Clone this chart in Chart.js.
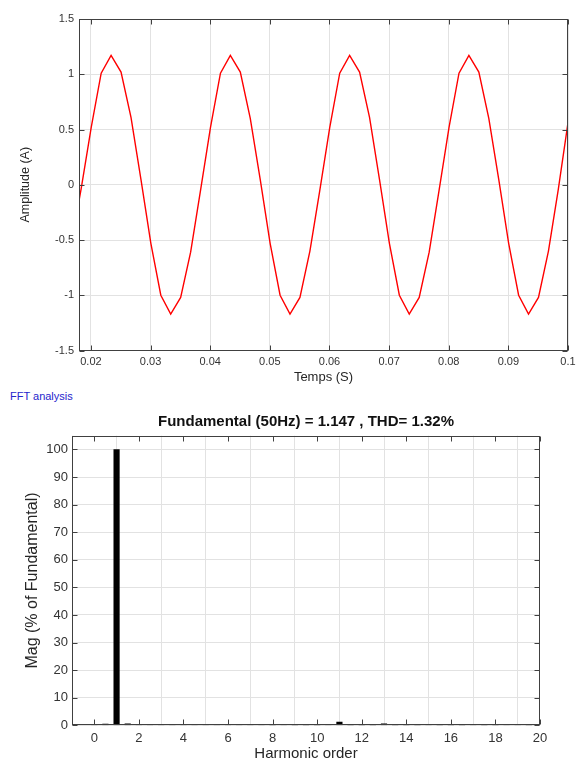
<!DOCTYPE html>
<html>
<head>
<meta charset="utf-8">
<script src="https://cdn.jsdelivr.net/npm/chart.js@4.4.1/dist/chart.umd.min.js"></script>
<style>
  html, body { margin: 0; padding: 0; background: #fff; overflow: hidden; width: 581px; height: 760px; }
  #wave { position: absolute; left: 0; top: 0; }
  #fft { position: absolute; left: 0; top: 400px; }
  .fftlabel { position: absolute; left: 10px; top: 390px; font: 11px 'Liberation Sans', Arial, sans-serif; color: #2626cc; line-height: 13px; }
</style>
</head>
<body>
<canvas id="wave" width="581" height="390"></canvas>
<div class="fftlabel">FFT analysis</div>
<canvas id="fft" width="581" height="370"></canvas>
<script>
// signal samples (time in s, current in A)
var timeS = [
  0.01672, 0.01838,
  0.02005, 0.02172, 0.02338, 0.02505, 0.02672, 0.02838, 0.03005, 0.03172, 0.03338, 0.03505, 0.03672, 0.03838,
  0.04005, 0.04172, 0.04338, 0.04505, 0.04672, 0.04838, 0.05005, 0.05172, 0.05338, 0.05505, 0.05672, 0.05838,
  0.06005, 0.06172, 0.06338, 0.06505, 0.06672, 0.06838, 0.07005, 0.07172, 0.07338, 0.07505, 0.07672, 0.07838,
  0.08005, 0.08172, 0.08338, 0.08505, 0.08672, 0.08838, 0.09005, 0.09172, 0.09338, 0.09505, 0.09672, 0.09838,
  0.10005
];
var currentA = [
  -0.53, -0.03,
  0.52, 1.01, 1.17, 1.02, 0.61, 0.05, -0.53, -1.00, -1.17, -1.02, -0.61, -0.05,
  0.52, 1.01, 1.17, 1.02, 0.60, 0.05, -0.53, -1.00, -1.17, -1.02, -0.60, -0.05,
  0.52, 1.01, 1.17, 1.02, 0.61, 0.05, -0.53, -1.00, -1.17, -1.02, -0.61, -0.05,
  0.52, 1.01, 1.17, 1.02, 0.60, 0.05, -0.53, -1.00, -1.17, -1.02, -0.60, -0.04,
  0.58
];
var timeTicks = [0.02, 0.03, 0.04, 0.05, 0.06, 0.07, 0.08, 0.09, 0.1];
var ampTicks = [-1.5, -1, -0.5, 0, 0.5, 1, 1.5];

// FFT spectrum (% of fundamental)
var harmonicOrder = [
  0, 0.5, 1, 1.5, 2, 2.5, 3, 3.5, 4, 4.5, 5, 5.5, 6, 6.5, 7, 7.5, 8, 8.5, 9, 9.5,
  10, 10.5, 11, 11.5, 12, 12.5, 13, 13.5, 14, 14.5, 15, 15.5, 16, 16.5, 17, 17.5, 18, 18.5, 19, 19.5
];
var magPct = [
  0.1, 0.4, 100, 0.5, 0.25, 0.2, 0.15, 0.15, 0.1, 0.12, 0.15, 0.12, 0.1, 0.12, 0.15, 0.1, 0.08, 0.1, 0.05, 0.05,
  0.05, 0.15, 1.15, 0.05, 0.05, 0.05, 0.55, 0.05, 0.05, 0.05, 0.12, 0.05, 0.05, 0.05, 0.12, 0.05, 0.05, 0.12, 0.12, 0.05
];
var harmTicks = [0, 2, 4, 6, 8, 10, 12, 14, 16, 18, 20];
var magTicks = [0, 10, 20, 30, 40, 50, 60, 70, 80, 90, 100];

Chart.defaults.font.family = "'Liberation Sans', Arial, sans-serif";
Chart.defaults.color = '#333';

// box around the axes with inward tick marks
var boxPlugin = {
  id: 'boxPlugin',
  afterDraw: function(chart) {
    var ctx = chart.ctx, a = chart.chartArea, sx = chart.scales.x, sy = chart.scales.y;
    var L = Math.round(a.left) + 0.5, R = Math.round(a.right) - 0.5;
    var T = Math.round(a.top) + 0.5, B = Math.round(a.bottom) - 0.5;
    ctx.save();
    ctx.strokeStyle = '#404040';
    ctx.lineWidth = 1;
    ctx.strokeRect(L, T, R - L, B - T);
    ctx.beginPath();
    sx.ticks.forEach(function(t) {
      var px = Math.round(sx.getPixelForValue(t.value)) + 0.5;
      ctx.moveTo(px, B); ctx.lineTo(px, B - 5);
      ctx.moveTo(px, T); ctx.lineTo(px, T + 5);
    });
    sy.ticks.forEach(function(t) {
      var py = Math.round(sy.getPixelForValue(t.value)) + 0.5;
      ctx.moveTo(L, py); ctx.lineTo(L + 5, py);
      ctx.moveTo(R, py); ctx.lineTo(R - 5, py);
    });
    ctx.stroke();
    ctx.restore();
  }
};

function fmt(v) { return String(+v.toFixed(4)); }

var grid = { color: '#e2e2e2', drawTicks: false };

new Chart(document.getElementById('wave'), {
  type: 'line',
  data: {
    datasets: [{
      data: timeS.map(function(t, i) { return { x: t, y: currentA[i] }; }),
      borderColor: '#ff0000',
      borderWidth: 1.4,
      pointRadius: 0,
      tension: 0
    }]
  },
  options: {
    responsive: false,
    animation: false,
    devicePixelRatio: 1,
    layout: { padding: { left: 0, right: 13, top: 19, bottom: 0 } },
    plugins: { legend: { display: false }, tooltip: { enabled: false } },
    scales: {
      x: {
        type: 'linear', min: 0.018, max: 0.1,
        grid: grid, border: { display: false },
        ticks: { padding: 4.5, font: { size: 11 }, color: '#333', maxRotation: 0, callback: fmt },
        afterBuildTicks: function(s) { s.ticks = timeTicks.map(function(v) { return { value: v }; }); },
        afterFit: function(s) { s.height = 39.5; },
        title: { display: true, text: 'Temps (S)', font: { size: 13 }, color: '#262626', padding: { top: 0, bottom: 5 } }
      },
      y: {
        min: -1.5, max: 1.5,
        grid: grid, border: { display: false },
        ticks: { padding: 5, font: { size: 11 }, color: '#333', callback: fmt },
        afterBuildTicks: function(s) { s.ticks = ampTicks.map(function(v) { return { value: v }; }); },
        afterFit: function(s) { s.width = 79; },
        title: { display: true, text: 'Amplitude (A)', font: { size: 12.5 }, color: '#262626', padding: { top: 18.5, bottom: 0 } }
      }
    }
  },
  plugins: [boxPlugin]
});

new Chart(document.getElementById('fft'), {
  type: 'bar',
  data: {
    datasets: [{
      data: harmonicOrder.map(function(h, i) { return { x: h, y: magPct[i] }; }),
      backgroundColor: '#000',
      barThickness: 5.5
    }]
  },
  options: {
    responsive: false,
    animation: false,
    devicePixelRatio: 1,
    layout: { padding: { left: 0, right: 41, top: 0, bottom: 0 } },
    plugins: {
      legend: { display: false },
      tooltip: { enabled: false },
      title: {
        display: true, fullSize: false,
        text: 'Fundamental (50Hz) = 1.147 , THD= 1.32%',
        font: { size: 15, weight: 'bold' }, color: '#111',
        padding: { top: 13, bottom: 4.7 }
      }
    },
    scales: {
      x: {
        type: 'linear', min: -1, max: 20, offset: false,
        grid: grid, border: { display: false },
        ticks: { padding: 5, font: { size: 13 }, color: '#333', maxRotation: 0, callback: fmt },
        afterBuildTicks: function(s) { s.ticks = harmTicks.map(function(v) { return { value: v }; }); },
        afterFit: function(s) { s.height = 44.7; },
        title: { display: true, text: 'Harmonic order', font: { size: 15 }, color: '#262626', padding: { top: 0, bottom: 7 } }
      },
      y: {
        min: 0, max: 105,
        grid: grid, border: { display: false },
        ticks: { padding: 4, font: { size: 13 }, color: '#333', callback: fmt },
        afterBuildTicks: function(s) { s.ticks = magTicks.map(function(v) { return { value: v }; }); },
        afterFit: function(s) { s.width = 72; },
        title: { display: true, text: 'Mag (% of Fundamental)', font: { size: 16 }, color: '#262626', padding: { top: 23, bottom: 0 } }
      }
    }
  },
  plugins: [boxPlugin]
});
</script>
</body>
</html>
